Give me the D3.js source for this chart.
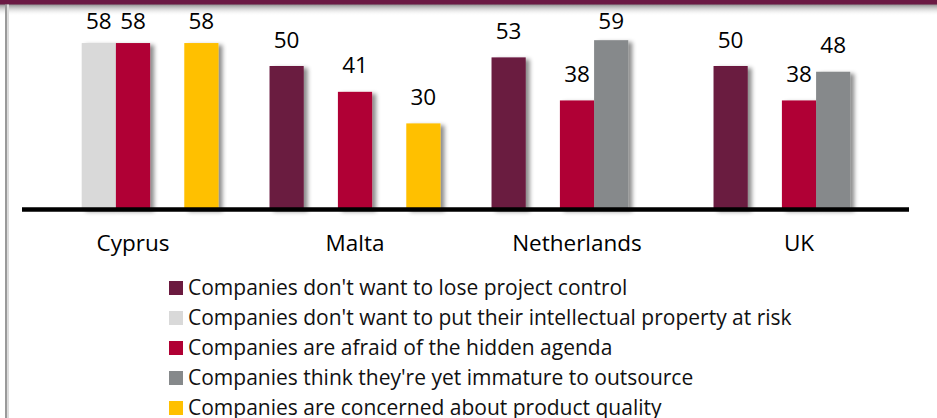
<!DOCTYPE html>
<html>
<head>
<meta charset="utf-8">
<script src="https://cdn.jsdelivr.net/npm/d3@7"></script>
<style>
    html, body { margin: 0; padding: 0; background: #fff; }
    svg { display: block; font-family: "Open Sans", sans-serif; }
</style>
</head>
<body>
<div id="chart"></div>
<script>
// Data
const countries = ['Cyprus', 'Malta', 'Netherlands', 'UK'];
const seriesNames = [
    "Companies don't want to lose project control",
    "Companies don't want to put their intellectual property at risk",
    "Companies are afraid of the hidden agenda",
    "Companies think they're yet immature to outsource",
    "Companies are concerned about product quality"
];
const seriesColors = ['#6B1A3F', '#D9D9D9', '#B00034', '#86898B', '#FFC000'];
// one entry per country for each series (null = no bar)
const loseControl   = [null, 50, 53, 50];
const ipAtRisk      = [58, null, null, null];
const hiddenAgenda  = [58, 41, 38, 38];
const immature      = [null, null, 59, 48];
const productQual   = [58, 30, null, null];
const allSeries = [loseControl, ipAtRisk, hiddenAgenda, immature, productQual];

const W = 937, H = 418;
const svg = d3.select('#chart').append('svg')
    .attr('width', W)
    .attr('height', H);

const defs = svg.append('defs');
const shadow = defs.append('filter')
    .attr('id', 'barShadow')
    .attr('x', '-20%').attr('y', '-10%')
    .attr('width', '160%').attr('height', '130%');
shadow.append('feDropShadow')
    .attr('dx', 4).attr('dy', 2)
    .attr('stdDeviation', 2.2)
    .attr('flood-color', '#000')
    .attr('flood-opacity', 0.45);

const topGrad = defs.append('linearGradient')
    .attr('id', 'topShade')
    .attr('x1', 0).attr('y1', 0).attr('x2', 0).attr('y2', 1);
topGrad.append('stop').attr('offset', 0).attr('stop-color', '#7a7a7a').attr('stop-opacity', 0.9);
topGrad.append('stop').attr('offset', 1).attr('stop-color', '#ffffff').attr('stop-opacity', 0);

// frame: maroon band on top with a soft shadow, grey rule on the left
svg.append('rect')
    .attr('x', 0).attr('y', 4)
    .attr('width', W).attr('height', 12)
    .attr('fill', 'url(#topShade)');
svg.append('rect')
    .attr('x', 0).attr('y', 0)
    .attr('width', W).attr('height', 4.5)
    .attr('fill', '#6B1A44');
svg.append('rect')
    .attr('x', 5).attr('y', 4.5)
    .attr('width', 2).attr('height', H)
    .attr('fill', '#9a9a9a');
svg.append('rect')
    .attr('x', 7).attr('y', 4.5)
    .attr('width', 2).attr('height', H)
    .attr('fill', '#dcdcdc');

// scales
const x0 = d3.scaleBand()
    .domain(countries)
    .range([22, 910])
    .paddingInner(0.23)
    .paddingOuter(0.115);

const x1 = d3.scaleBand()
    .domain(d3.range(seriesNames.length))
    .range([0, x0.bandwidth()]);

const y = d3.scaleLinear()
    .domain([0, 73])
    .range([209.5, 0]);

const bars = [];
countries.forEach((c, ci) => {
    allSeries.forEach((s, si) => {
        if (s[ci] != null) bars.push({country: c, series: si, value: s[ci]});
    });
});

const g = svg.append('g');
g.selectAll('.bar')
    .data(bars)
    .enter().append('rect')
    .attr('class', 'bar')
    .attr('x', d => x0(d.country) + x1(d.series))
    .attr('y', d => y(d.value))
    .attr('width', x1.bandwidth())
    .attr('height', d => y(0) - y(d.value))
    .attr('fill', d => seriesColors[d.series])
    .attr('filter', 'url(#barShadow)');

// value labels, kept inside the plot top like Excel does
g.selectAll('.val')
    .data(bars)
    .enter().append('text')
    .attr('class', 'val')
    .attr('x', d => x0(d.country) + x1(d.series) + x1.bandwidth() / 2)
    .attr('y', d => Math.max(y(d.value) - 18.5, 29))
    .attr('text-anchor', 'middle')
    .style('font-size', '22.5px')
    .style('fill', '#000')
    .text(d => d.value);

// baseline
svg.append('line')
    .attr('x1', 22).attr('x2', 909)
    .attr('y1', y(0)).attr('y2', y(0))
    .attr('stroke', '#000')
    .attr('stroke-width', 4.5);

// category labels
svg.selectAll('.cat')
    .data(countries)
    .enter().append('text')
    .attr('class', 'cat')
    .attr('x', d => x0(d) + x0.bandwidth() / 2)
    .attr('y', 251)
    .attr('text-anchor', 'middle')
    .style('font-size', '22.5px')
    .style('fill', '#000')
    .text(d => d);

// legend
const legend = svg.append('g')
    .attr('transform', 'translate(169,281)');
const item = legend.selectAll('.item')
    .data(seriesNames)
    .enter().append('g')
    .attr('class', 'item')
    .attr('transform', (d, i) => `translate(0,${i * 30})`);
item.append('rect')
    .attr('width', 14).attr('height', 14)
    .attr('fill', (d, i) => seriesColors[i]);
item.append('text')
    .attr('x', 19)
    .attr('y', 14)
    .style('font-size', '21px')
    .style('fill', '#111')
    .text(d => d);
</script>
</body>
</html>
